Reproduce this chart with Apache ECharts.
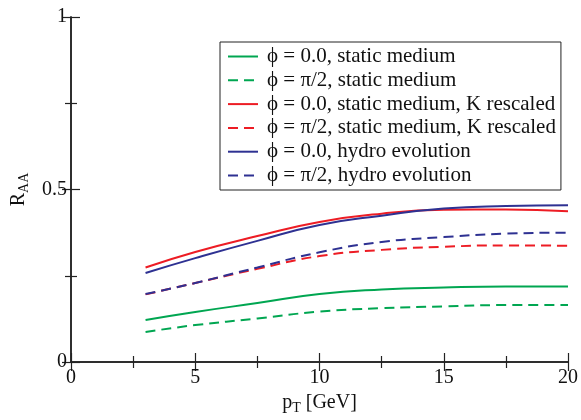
<!DOCTYPE html>
<html>
<head>
<meta charset="utf-8">
<script src="https://cdn.jsdelivr.net/npm/echarts@6/dist/echarts.min.js"></script>
<style>
html,body{margin:0;padding:0;background:#fff;}
#main{width:581px;height:420px;}
</style>
</head>
<body>
<div id="main"></div>
<script>
// pT points where the curves were read
const ptList = [3, 5, 7.5, 10, 12.5, 15, 17.5, 20];
const greenSolid = [0.122, 0.145, 0.171, 0.197, 0.210, 0.216, 0.219, 0.219];
const greenDash  = [0.087, 0.107, 0.126, 0.146, 0.156, 0.161, 0.165, 0.165];
const redSolid   = [0.274, 0.319, 0.365, 0.406, 0.430, 0.441, 0.442, 0.437];
const redDash    = [0.196, 0.229, 0.270, 0.307, 0.325, 0.334, 0.338, 0.337];
const blueSolid  = [0.258, 0.301, 0.351, 0.397, 0.424, 0.445, 0.452, 0.454];
const blueDash   = [0.197, 0.229, 0.274, 0.318, 0.348, 0.362, 0.372, 0.375];
const names = [
  'ϕ = 0.0, static medium',
  'ϕ = π/2, static medium',
  'ϕ = 0.0, static medium, K rescaled',
  'ϕ = π/2, static medium, K rescaled',
  'ϕ = 0.0, hydro evolution',
  'ϕ = π/2, hydro evolution'
];

const FONT = 'Liberation Serif';
const AXC = '#222';

function pairs(ys){
  return ptList.map((x,i)=>[x, ys[i]]);
}
function mkSeries(name, ys, color, dashed){
  return {
    name: name,
    type: 'line',
    data: pairs(ys),
    smooth: true,
    symbol: 'none',
    lineStyle: { color: color, width: 2, type: dashed ? [10,6] : 'solid' },
    itemStyle: { color: color }
  };
}

const green = '#00a651', red = '#ed1c24', blue = '#2e3192';

// shared axis look
function tickStuff(){
  return {
    axisLine: { show: true, lineStyle: { color: AXC, width: 1.5 } },
    axisTick: { inside: true, length: 9, lineStyle: { color: AXC, width: 1.2 } },
    minorTick: { show: true, splitNumber: 2, length: 6, lineStyle: { color: AXC, width: 1.2 } },
    splitLine: { show: false }
  };
}
const nameRich = {
  a: { fontFamily: FONT, fontSize: 20, color: '#111' },
  b: { fontFamily: FONT, fontSize: 14, color: '#111', padding: [10,0,0,0] }
};

let chart = echarts.init(document.getElementById('main'));
let option = {
  animation: false,
  grid: { left: 71, right: 12, top: 17, bottom: 54 },
  legend: {
    orient: 'vertical',
    left: 220,
    top: 42,
    padding: [4, 5, 4, 7],
    itemGap: 2.8,
    itemWidth: 30,
    itemHeight: 14,
    itemStyle: { opacity: 0 },
    borderColor: AXC,
    borderWidth: 1,
    backgroundColor: '#fff',
    textStyle: { fontFamily: FONT, fontSize: 21, lineHeight: 21, color: '#111', padding: [0,0,0,4] },
    data: names
  },
  xAxis: [
    Object.assign({
      type: 'value', min: 0, max: 20, interval: 5,
      name: '{a|p}{b|T}{a| [GeV]}',
      nameLocation: 'middle', nameGap: 29,
      nameTextStyle: { rich: nameRich },
      axisLabel: { fontFamily: FONT, fontSize: 20, color: '#111', margin: 6 }
    }, tickStuff()),
    Object.assign({
      type: 'value', min: 0, max: 20, interval: 5, position: 'top',
      axisLabel: { show: false }
    }, tickStuff())
  ],
  yAxis: [
    Object.assign({
      type: 'value', min: 0, max: 1, interval: 0.5,
      name: '{a|R}{b|AA}',
      nameLocation: 'middle', nameGap: 40, nameRotate: 90,
      nameTextStyle: { rich: nameRich },
      axisLabel: { fontFamily: FONT, fontSize: 20, color: '#111', margin: 4 }
    }, tickStuff()),
    Object.assign({
      type: 'value', min: 0, max: 1, interval: 0.5, position: 'right',
      axisLabel: { show: false }
    }, tickStuff())
  ],
  series: [
    mkSeries(names[0], greenSolid, green, false),
    mkSeries(names[1], greenDash, green, true),
    mkSeries(names[2], redSolid, red, false),
    mkSeries(names[3], redDash, red, true),
    mkSeries(names[4], blueSolid, blue, false),
    mkSeries(names[5], blueDash, blue, true)
  ]
};
chart.setOption(option);
</script>
</body>
</html>
